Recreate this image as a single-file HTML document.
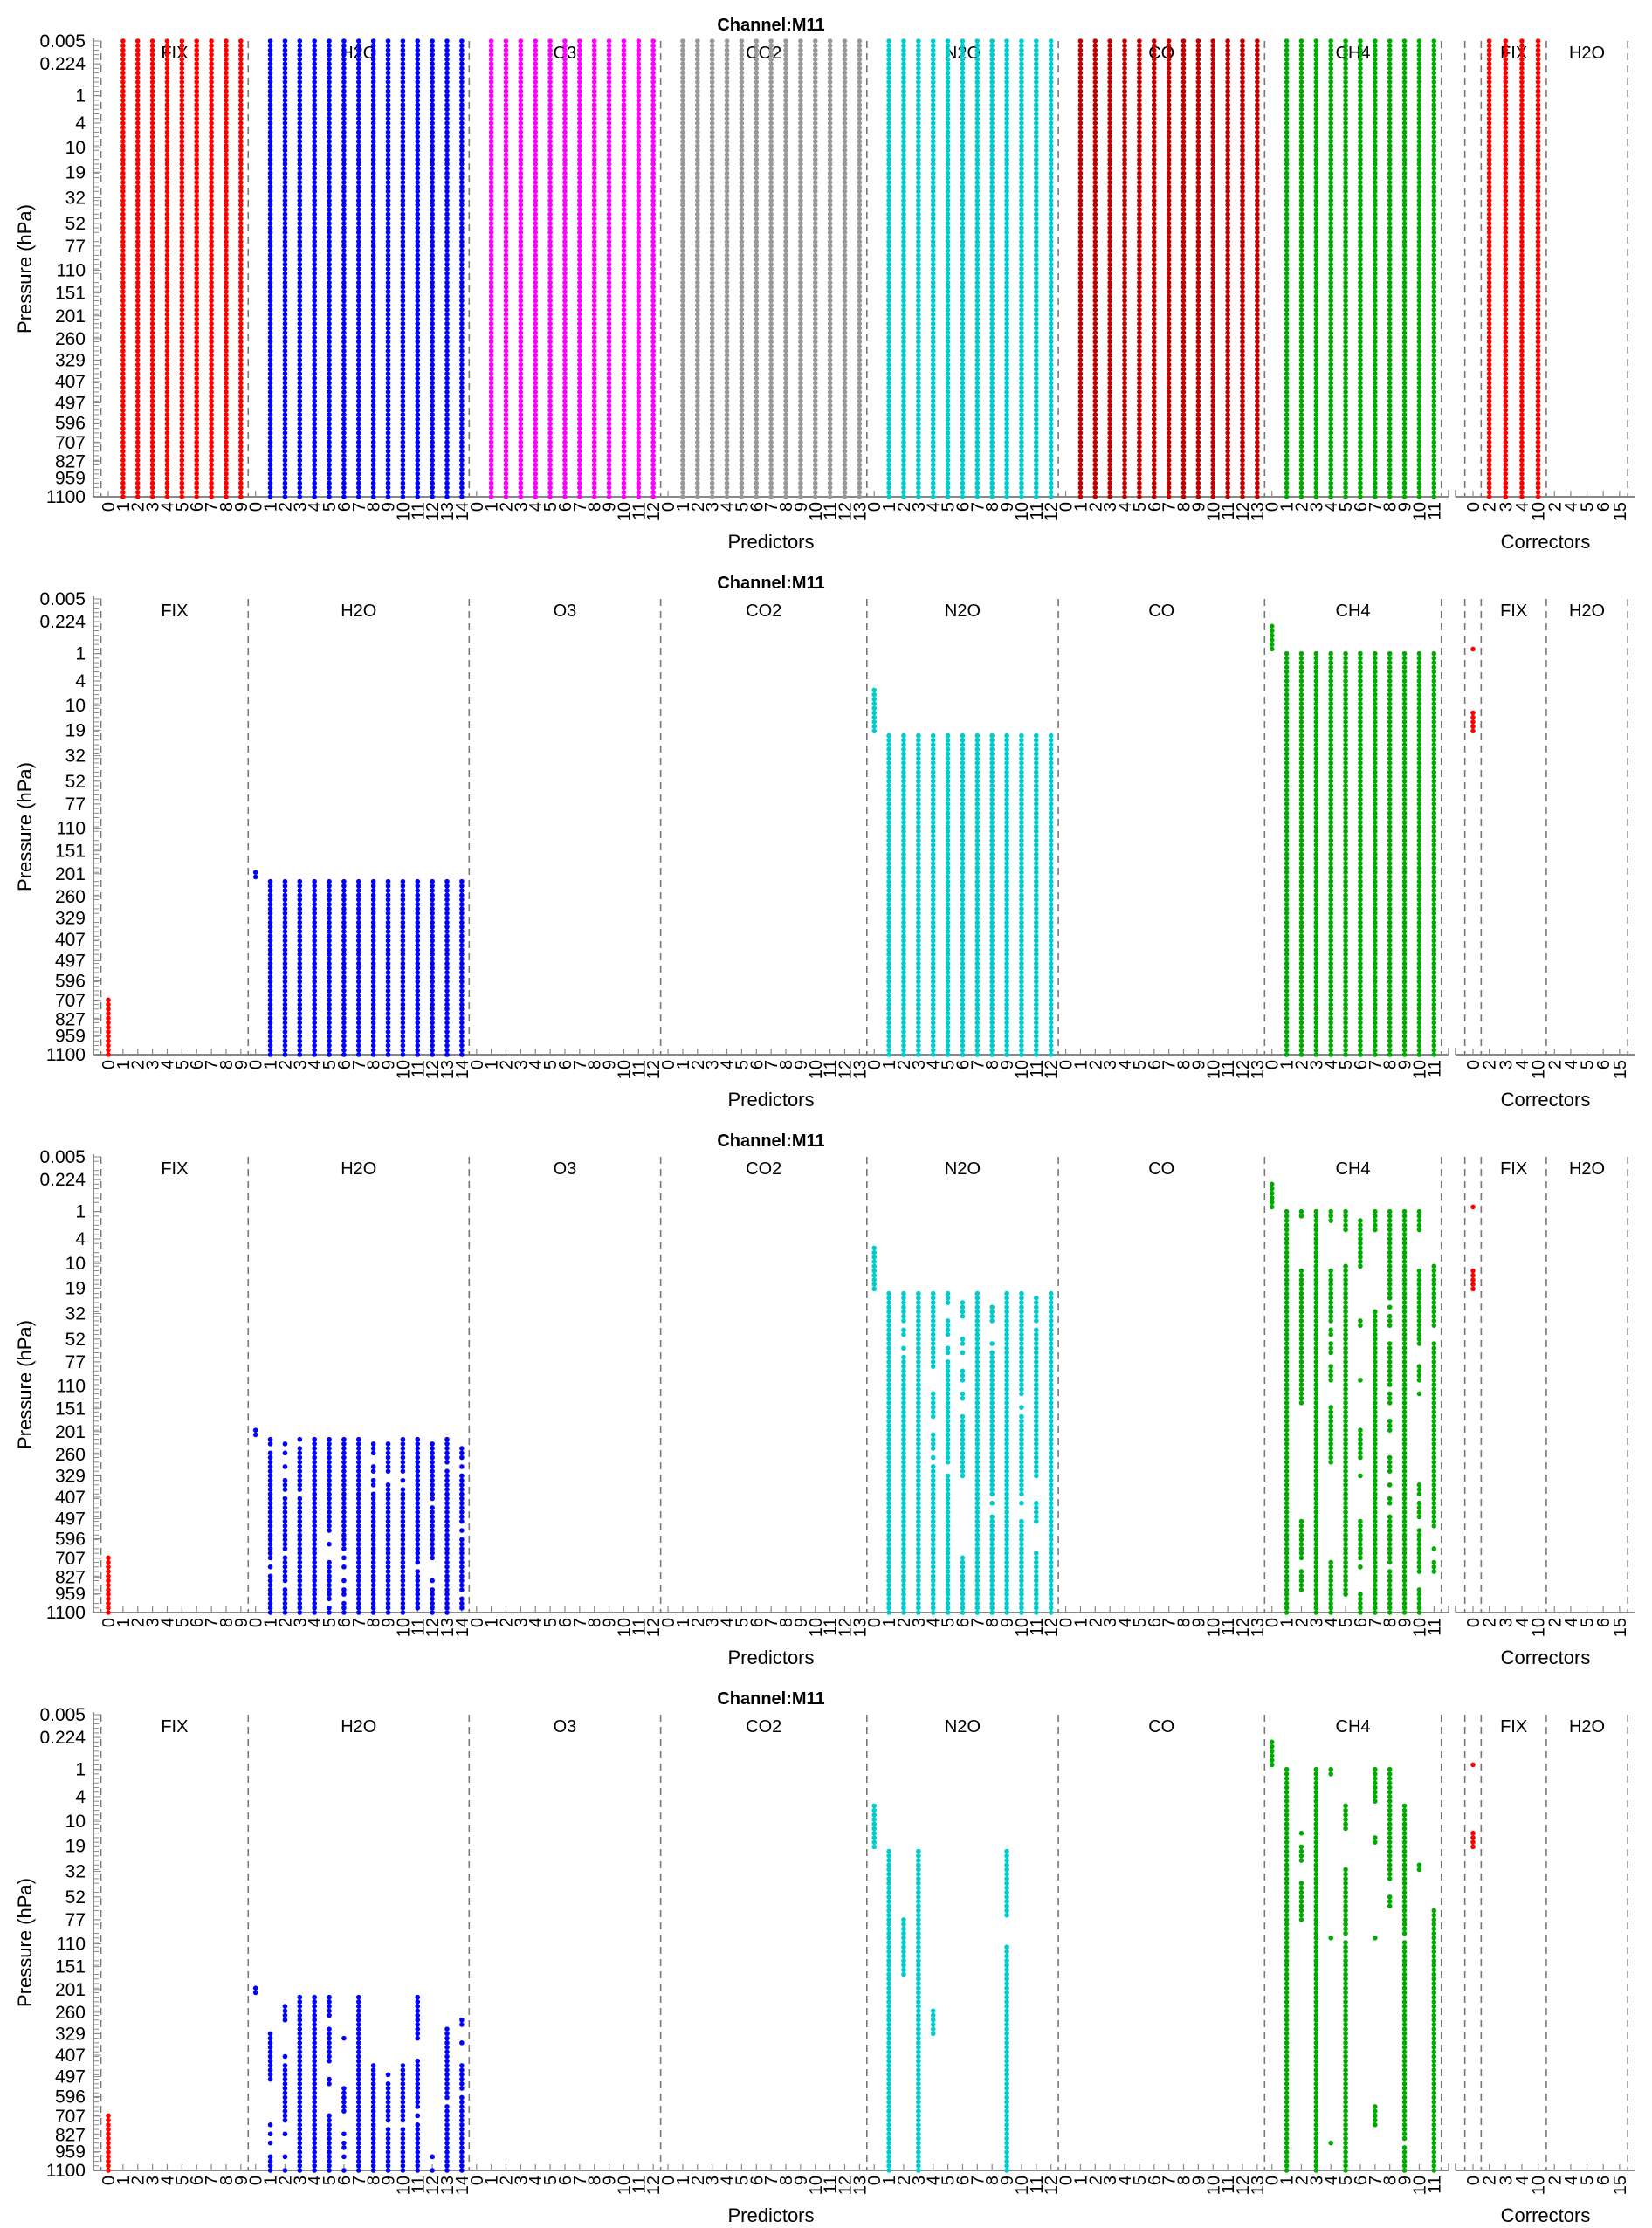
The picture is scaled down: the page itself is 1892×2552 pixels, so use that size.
<!DOCTYPE html>
<html><head><meta charset="utf-8">
<style>
html,body{margin:0;padding:0;background:#fff;}
svg{display:block;font-family:"Liberation Sans",Arial,sans-serif;}
</style></head>
<body>
<svg id="chart" width="1892" height="2552" viewBox="0 0 1892 2552" xmlns="http://www.w3.org/2000/svg"></svg>
<script>
// ---- data ----
const F = [[0,100]];
const groupNames = ["FIX","H2O","O3","CO2","N2O","CO","CH4"];
const groupColors = ["#ff0000","#0000ff","#ff00ff","#999999","#00cccc","#c00000","#00aa00"];
const groupTicks = [
 ["0","1","2","3","4","5","6","7","8","9"],
 ["0","1","2","3","4","5","6","7","8","9","10","11","12","13","14"],
 ["0","1","2","3","4","5","6","7","8","9","10","11","12"],
 ["0","1","2","3","4","5","6","7","8","9","10","11","12","13"],
 ["0","1","2","3","4","5","6","7","8","9","10","11","12"],
 ["0","1","2","3","4","5","6","7","8","9","10","11","12","13"],
 ["0","1","2","3","4","5","6","7","8","9","10","11"]
];
const corrGroupNames = ["","FIX","H2O"];
const corrTicks = [["0"],["2","3","4","10"],["2","4","5","6","15"]];
const yTickLabels = ["0.005","0.224","1","4","10","19","32","52","77","110","151","201","260","329","407","497","596","707","827","959","1100"];
const yTickLevels = [0,5,12,18,23.4,28.8,34.4,40,45,50.3,55.3,60.3,65.3,70,74.7,79.4,83.8,88.1,92.2,95.9,100];

// Panel 1 : [group][column] -> segments of level indices (0 = 0.005 hPa, 100 = 1100 hPa)
const p1FIX = [[],F,F,F,F,F,F,F,F,F];
const p1H2O = [[],F,F,F,F,F,F,F,F,F,F,F,F,F,F];
const p1O3  = [[],F,F,F,F,F,F,F,F,F,F,F,F];
const p1CO2 = [[],F,F,F,F,F,F,F,F,F,F,F,F,F];
const p1N2O = [[],F,F,F,F,F,F,F,F,F,F,F,F];
const p1CO  = [[],F,F,F,F,F,F,F,F,F,F,F,F,F];
const p1CH4 = [[],F,F,F,F,F,F,F,F,F,F,F];
const p1Corr = [[[]],[F,F,F,F],[[],[],[],[],[]]];

// Panel 2
const H2 = [[62,100]], N2 = [[30,100]], C2 = [[12,100]];
const p2FIX = [[[88,100]],[],[],[],[],[],[],[],[],[]];
const p2H2O = [[[60,61]],H2,H2,H2,H2,H2,H2,H2,H2,H2,H2,H2,H2,H2,H2];
const p2N2O = [[[20,29]],N2,N2,N2,N2,N2,N2,N2,N2,N2,N2,N2,N2];
const p2CH4 = [[[6,11]],C2,C2,C2,C2,C2,C2,C2,C2,C2,C2,C2];
const p2Corr = [[[[11,11],[25,29]]],[[],[],[],[]],[[],[],[],[],[]]];

// Panel 3
const p3FIX = [[[88,100]],[],[],[],[],[],[],[],[],[]];
const p3H2O = [
 [[60,61]],
 [[62,63],[65,74],[75,78],[79,81],[82,88],[90,90],[92,100]],
 [[63,63],[65,65],[68,68],[71,73],[75,84],[85,86],[88,93],[95,100]],
 [[62,62],[64,73],[75,95],[96,100]],
 [[62,100]],
 [[62,82],[85,85],[89,97],[99,100]],
 [[62,86],[88,88],[90,90],[93,93],[95,96],[98,100]],
 [[62,100]],
 [[63,65],[68,69],[71,72],[74,100]],
 [[63,68],[69,69],[72,100]],
 [[62,69],[71,71],[73,100]],
 [[62,89],[91,91],[92,99]],
 [[63,66],[67,75],[77,88],[93,93],[95,100]],
 [[62,67],[69,100]],
 [[64,66],[68,68],[70,80],[82,82],[84,95],[97,98],[99,99]]
];
const p3N2O = [
 [[20,29]],
 [[30,100]],
 [[30,36],[38,39],[42,42],[44,88],[89,100]],
 [[30,100]],
 [[30,46],[52,54],[55,57],[61,64],[66,66],[68,100]],
 [[30,32],[36,39],[42,43],[45,67],[70,100]],
 [[32,35],[40,41],[43,43],[47,49],[52,53],[57,70],[88,100]],
 [[30,100]],
 [[33,36],[41,41],[43,74],[76,76],[79,100]],
 [[30,100]],
 [[30,52],[55,55],[57,74],[76,76],[80,100]],
 [[31,36],[38,70],[76,80],[87,100]],
 [[30,66],[67,100]]
];
const p3CH4 = [
 [[6,11]],
 [[12,100]],
 [[12,13],[25,36],[37,54],[80,86],[87,88],[91,95]],
 [[12,100]],
 [[12,14],[25,32],[33,36],[38,39],[41,43],[46,49],[55,67],[89,90],[91,100]],
 [[12,16],[24,37],[38,96]],
 [[14,24],[36,37],[49,49],[60,66],[70,70],[80,86],[87,88],[90,90],[96,100]],
 [[12,16],[34,100]],
 [[12,31],[33,33],[35,37],[41,50],[52,54],[58,60],[66,69],[72,72],[75,76],[79,89],[91,91],[92,100]],
 [[12,100]],
 [[12,16],[25,41],[46,49],[52,52],[72,74],[76,79],[82,91],[95,95],[96,100]],
 [[24,37],[41,52],[53,81],[86,86],[89,91]]
];
const p3Corr = [[[[11,11],[25,29]]],[[],[],[],[]],[[],[],[],[],[]]];

// Panel 4
const p4FIX = [[[88,100]],[],[],[],[],[],[],[],[],[]];
const p4H2O = [
 [[60,61]],
 [[70,80],[90,90],[92,92],[94,94],[97,100]],
 [[64,67],[75,75],[77,89],[92,92],[97,97],[100,100]],
 [[62,78],[79,100]],
 [[62,100]],
 [[62,66],[69,76],[80,81],[88,91],[92,97],[98,100]],
 [[71,71],[82,87],[92,92],[94,94],[95,95],[97,97],[100,100]],
 [[62,100]],
 [[77,97],[98,100]],
 [[79,79],[81,89],[91,100]],
 [[77,89],[91,100]],
 [[62,71],[76,86],[88,88],[90,91],[92,97],[98,100]],
 [[97,97],[100,100]],
 [[69,84],[86,100]],
 [[67,68],[72,72],[77,82],[84,85],[86,100]]
];
const p4N2O = [
 [[20,29]],
 [[30,100]],
 [[45,57]],
 [[30,100]],
 [[65,70]],
 [],[],[],[],
 [[30,44],[51,100]],
 [],[],[]
];
const p4CH4 = [
 [[6,11]],
 [[12,100]],
 [[26,26],[29,32],[37,45]],
 [[12,100]],
 [[12,13],[49,49],[94,94]],
 [[20,25],[34,48],[50,100]],
 [],
 [[12,19],[27,28],[49,49],[86,90]],
 [[12,36],[40,42]],
 [[20,48],[50,93],[95,100]],
 [[33,34]],
 [[43,100]]
];
const p4Corr = [[[[11,11],[26,29]]],[[],[],[],[]],[[],[],[],[],[]]];

const E13=[[],[],[],[],[],[],[],[],[],[],[],[],[]], E14=[[],[],[],[],[],[],[],[],[],[],[],[],[],[]];
const panels = [
 {groups:[p1FIX,p1H2O,p1O3,p1CO2,p1N2O,p1CO,p1CH4], corr:p1Corr},
 {groups:[p2FIX,p2H2O,E13,E14,p2N2O,E14,p2CH4], corr:p2Corr},
 {groups:[p3FIX,p3H2O,E13,E14,p3N2O,E14,p3CH4], corr:p3Corr},
 {groups:[p4FIX,p4H2O,E13,E14,p4N2O,E14,p4CH4], corr:p4Corr}
];

// ---- layout ----
const NS="http://www.w3.org/2000/svg";
const svg=document.getElementById('chart');
const PANEL_STEP=639, Y_TOP=47, Y_BOT=569;
const AX_L=107, AX_R=1659, X0=124, DX=16.87;
const C_L=1667, C_R=1872, CX0=1687, CDX=18.65;
const corrColors=["#ff0000","#ff0000","#0000ff"];
function mk(tag,attrs,parent){const e=document.createElementNS(NS,tag);for(const k in attrs)e.setAttribute(k,attrs[k]);(parent||svg).appendChild(e);return e;}
function yScale(level,p){return Y_TOP+p*PANEL_STEP+level*(Y_BOT-Y_TOP)/100;}
function xScale(i){return X0+i*DX;}
function cxScale(i){return CX0+i*CDX;}

panels.forEach((panel,p)=>{
  const g=mk('g',{});
  
  
  const yT=yScale(0,p), yB=yScale(100,p);
  const title=mk('text',{x:883,y:yT-12,'text-anchor':'middle','font-size':20,'font-weight':'bold'},g);
  title.textContent='Channel:M11';
  
  
  const yl=mk('text',{x:0,y:0,'text-anchor':'middle','font-size':22,transform:'translate(36,'+((yT+yB)/2)+') rotate(-90)'},g);
  yl.textContent='Pressure (hPa)';
  
  
  const ya=mk('line',{x1:AX_L,y1:yT-3,x2:AX_L,y2:yB,stroke:'#888','stroke-width':2},g);
  
  
  for(let l=0;l<=100;l++){
    const y=yScale(l,p);
    mk('line',{x1:AX_L,y1:y,x2:AX_L+6,y2:y,stroke:'#888','stroke-width':1},g);
  }
  yTickLabels.forEach((t,i)=>{
    const y=yScale(yTickLevels[i],p);
    mk('line',{x1:AX_L,y1:y,x2:AX_L+9,y2:y,stroke:'#888','stroke-width':1},g);
    const tx=mk('text',{x:98,y:y+7,'text-anchor':'end','font-size':21},g);
    tx.textContent=t;
    
    
  });
  const xa=mk('line',{x1:AX_L,y1:yB,x2:AX_R,y2:yB,stroke:'#888','stroke-width':2},g);
  
  
  const ca=mk('line',{x1:C_L,y1:yB,x2:C_R,y2:yB,stroke:'#888','stroke-width':2},g);
  
  
  mk('line',{x1:AX_R,y1:yB,x2:AX_R,y2:yB-8,stroke:'#888','stroke-width':1.5},g);
  mk('line',{x1:C_L,y1:yB,x2:C_L,y2:yB-8,stroke:'#888','stroke-width':1.5},g);
  const dash=(x)=>{const d=mk('line',{x1:x,y1:yT,x2:x,y2:yB,stroke:'#777','stroke-width':1.6,'stroke-dasharray':'8,6'},g);
    
    };
  let idx=0;
  dash(xScale(-0.5));
  panel.groups.forEach((cols,gi)=>{
    const n=groupTicks[gi].length;
    const gl=mk('text',{x:(xScale(idx-0.5)+xScale(idx+n-0.5))/2,y:yT+20,'text-anchor':'middle','font-size':20},g);
    gl.textContent=groupNames[gi];
    
    
    groupTicks[gi].forEach((t,ci)=>{
      const x=xScale(idx+ci);
      mk('line',{x1:x,y1:yB,x2:x,y2:yB-7,stroke:'#888','stroke-width':1.2},g);
      const tl=mk('text',{x:0,y:0,'text-anchor':'end','font-size':20,transform:'translate('+(x+7)+','+(yB+6)+') rotate(-90)'},g);
      tl.textContent=t;
      
      
      (cols[ci]||[]).forEach(seg=>{
        for(let l=seg[0];l<=seg[1];l++){
          const c=mk('circle',{cx:x,cy:yScale(l,p),r:2.8,fill:groupColors[gi]},g);
          
          
        }
      });
    });
    idx+=n;
    dash(xScale(idx-0.5));
  });
  const xt=mk('text',{x:883,y:yB+59,'text-anchor':'middle','font-size':22},g);
  xt.textContent='Predictors';
  
  
  let cidx=0;
  const cdash=(i)=>{const d=mk('line',{x1:cxScale(i),y1:yT,x2:cxScale(i),y2:yB,stroke:'#777','stroke-width':1.6,'stroke-dasharray':'8,6'},g);
    
    };
  cdash(-0.5);
  corrTicks.forEach((ticks,gi)=>{
    const n=ticks.length;
    if(corrGroupNames[gi]){
      const gl=mk('text',{x:(cxScale(cidx-0.5)+cxScale(cidx+n-0.5))/2,y:yT+20,'text-anchor':'middle','font-size':20},g);
      gl.textContent=corrGroupNames[gi];
      
      
    }
    ticks.forEach((t,ci)=>{
      const x=cxScale(cidx+ci);
      mk('line',{x1:x,y1:yB,x2:x,y2:yB-7,stroke:'#888','stroke-width':1.2},g);
      const tl=mk('text',{x:0,y:0,'text-anchor':'end','font-size':20,transform:'translate('+(x+7)+','+(yB+6)+') rotate(-90)'},g);
      tl.textContent=t;
      
      
      const segs=(panel.corr[gi]&&panel.corr[gi][ci])||[];
      segs.forEach(seg=>{
        if(!seg||seg.length<2)return;
        for(let l=seg[0];l<=seg[1];l++){
          const c=mk('circle',{cx:x,cy:yScale(l,p),r:2.8,fill:corrColors[gi]},g);
          
          
        }
      });
    });
    cidx+=n;
    cdash(cidx-0.5);
  });
  const ct=mk('text',{x:1770,y:yB+59,'text-anchor':'middle','font-size':22},g);
  ct.textContent='Correctors';
  
  
});
</script>
</body></html>
